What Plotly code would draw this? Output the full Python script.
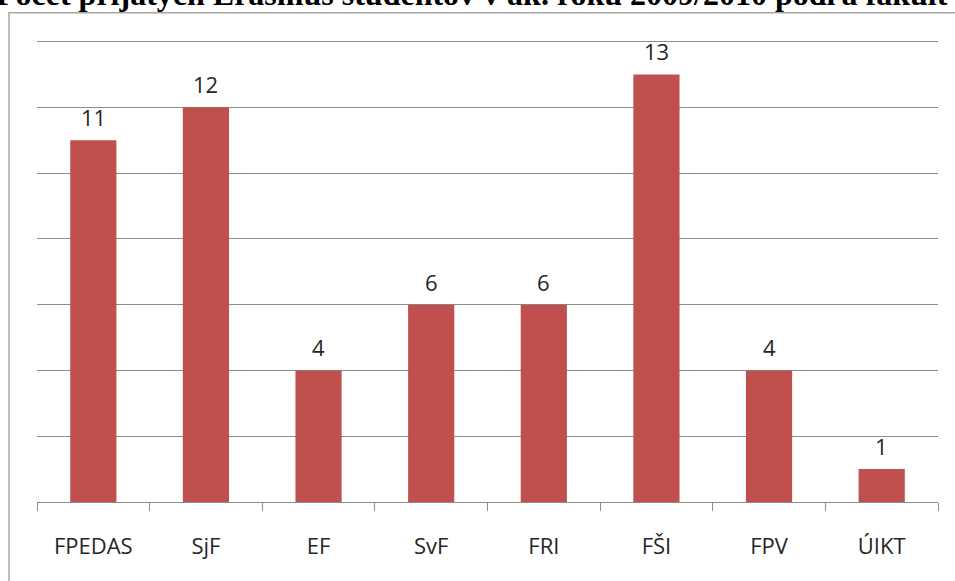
import plotly.graph_objects as go

title_text = "Počet prijatých Erasmus študentov v ak. roku 2009/2010 podľa fakúlt"
faculties = ["FPEDAS", "SjF", "EF", "SvF", "FRI", "FŠI", "FPV", "ÚIKT"]
students = [11, 12, 4, 6, 6, 13, 4, 1]

bar_color = "#C0504D"
grid_color = "#8C8C8C"
text_color = "#262626"
label_font = "Open Sans"

fig = go.Figure()
fig.add_trace(go.Bar(
    x=faculties, y=students,
    marker=dict(color=bar_color, line=dict(width=0)),
    hoverinfo="x+y",
))

for f, v in zip(faculties, students):
    fig.add_annotation(x=f, y=v, text=str(v), showarrow=False, yshift=23,
                       font=dict(family=label_font, size=22, color=text_color))

fig.add_annotation(xref="paper", yref="paper", x=0.483, y=1.045, yanchor="bottom",
                   text="<b>" + title_text + "</b>", showarrow=False,
                   font=dict(family="Liberation Serif", size=32, color="#000000"))

fig.add_shape(type="rect", xref="paper", yref="paper", x0=-0.031, x1=1.05,
              y0=-0.3, y1=1.0475, line=dict(color="#A6A6A6", width=1.5),
              fillcolor="rgba(0,0,0,0)", layer="below")

fig.update_layout(
    width=955, height=581,
    margin=dict(l=37, r=17, t=35, b=79),
    paper_bgcolor="white", plot_bgcolor="white",
    bargap=0.59, showlegend=False,
    xaxis=dict(type="category", tickson="boundaries", ticks="outside", ticklen=8,
               tickcolor=grid_color, showline=True, linecolor=grid_color, linewidth=1,
               showgrid=False, ticklabelstandoff=25,
               tickfont=dict(family=label_font, size=22, color=text_color)),
    yaxis=dict(range=[0, 14.2], dtick=2, showticklabels=False, showgrid=True,
               gridcolor=grid_color, gridwidth=1, zeroline=False, ticks=""),
)

fig.write_html("out.html", config={"displayModeBar": False},
               post_script="document.body.style.margin='0';")
